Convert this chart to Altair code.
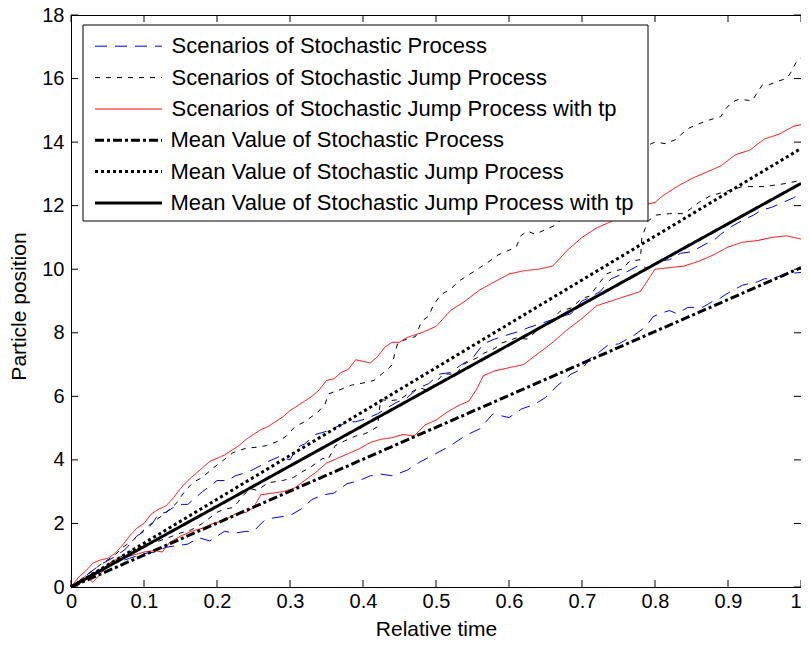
import altair as alt
import pandas as pd

SCEN_SERIES = [
    "Scenarios of Stochastic Process",
    "Scenarios of Stochastic Jump Process",
    "Scenarios of Stochastic Jump Process with tp",
]
MEAN_SERIES = [
    "Mean Value of Stochastic Process",
    "Mean Value of Stochastic Jump Process",
    "Mean Value of Stochastic Jump Process with tp",
]
SCEN_COLORS = ["#0000FF", "#000000", "#FF0000"]
MEAN_COLORS = ["#000000", "#000000", "#000000"]
SCEN_DASHES = [[12, 8], [5, 6], [1, 0]]
MEAN_DASHES = [[9, 3, 3, 3], [3, 3], [1, 0]]

X_TICKS = [0, 0.1, 0.2, 0.3, 0.4, 0.5, 0.6, 0.7, 0.8, 0.9, 1]
Y_TICKS = [0, 2, 4, 6, 8, 10, 12, 14, 16, 18]

blue_upper = [(0, 0), (0.02, 0.35), (0.04, 0.7), (0.06, 0.95), (0.075, 1.2), (0.09, 1.6), (0.1, 1.75),
              (0.11, 1.95), (0.12, 2.3), (0.13, 2.35), (0.14, 2.5), (0.15, 2.6), (0.16, 2.6), (0.17, 2.8),
              (0.18, 3.0), (0.195, 3.25), (0.2, 3.35), (0.215, 3.35), (0.225, 3.5), (0.24, 3.6), (0.25, 3.7),
              (0.27, 3.95), (0.285, 4.1), (0.3, 4.0), (0.31, 4.4), (0.32, 4.5), (0.335, 4.8), (0.35, 4.9),
              (0.37, 5.1), (0.38, 5.2), (0.39, 5.2), (0.405, 5.3), (0.42, 5.45), (0.445, 5.8), (0.46, 5.95),
              (0.475, 6.25), (0.49, 6.4), (0.505, 6.7), (0.52, 6.75), (0.535, 7.0), (0.55, 7.2), (0.565, 7.65),
              (0.58, 7.8), (0.6, 7.95), (0.615, 8.05), (0.625, 8.15), (0.645, 8.3), (0.67, 8.5), (0.685, 8.6),
              (0.7, 9.0), (0.71, 9.1), (0.725, 9.3), (0.74, 9.7), (0.76, 9.9), (0.78, 10.15), (0.79, 10.0),
              (0.8, 10.25), (0.82, 10.3), (0.835, 10.5), (0.85, 10.55), (0.87, 10.8), (0.88, 10.9), (0.89, 11.1),
              (0.905, 11.35), (0.925, 11.6), (0.935, 11.7), (0.945, 11.85), (0.96, 11.95), (0.975, 12.1),
              (0.99, 12.25), (1.0, 12.4)]

blue_lower = [(0, 0), (0.02, 0.3), (0.04, 0.55), (0.06, 0.75), (0.08, 0.9), (0.1, 1.05), (0.115, 1.1),
              (0.13, 1.25), (0.145, 1.3), (0.16, 1.35), (0.175, 1.55), (0.19, 1.45), (0.2, 1.6), (0.21, 1.75),
              (0.225, 1.7), (0.24, 1.75), (0.25, 1.75), (0.265, 2.1), (0.272, 2.15), (0.285, 2.2), (0.3, 2.25),
              (0.315, 2.45), (0.33, 2.75), (0.345, 2.9), (0.36, 2.95), (0.378, 3.25), (0.395, 3.35), (0.41, 3.5),
              (0.425, 3.55), (0.44, 3.5), (0.46, 3.67), (0.477, 3.92), (0.5, 4.2), (0.52, 4.45), (0.54, 4.76),
              (0.56, 4.98), (0.578, 5.45), (0.6, 5.33), (0.617, 5.6), (0.635, 5.75), (0.65, 5.96), (0.666, 6.33),
              (0.685, 6.7), (0.7, 6.86), (0.714, 7.27), (0.72, 7.33), (0.735, 7.6), (0.75, 7.65), (0.77, 7.9),
              (0.788, 8.2), (0.797, 8.5), (0.806, 8.6), (0.82, 8.7), (0.83, 8.6), (0.845, 8.8), (0.865, 8.8),
              (0.88, 9.0), (0.89, 9.1), (0.9, 9.25), (0.92, 9.5), (0.94, 9.6), (0.95, 9.7), (0.96, 9.7),
              (0.98, 9.85), (1.0, 9.9)]

black_upper = [(0, 0), (0.02, 0.35), (0.04, 0.7), (0.06, 1.0), (0.071, 1.25), (0.085, 1.47), (0.1, 1.8),
               (0.11, 2.0), (0.128, 2.3), (0.145, 2.65), (0.157, 3.05), (0.168, 3.3), (0.18, 3.45), (0.195, 3.75),
               (0.205, 3.92), (0.222, 4.23), (0.24, 4.37), (0.255, 4.4), (0.268, 4.45), (0.285, 4.6), (0.295, 4.75),
               (0.307, 5.05), (0.32, 5.2), (0.338, 5.5), (0.348, 5.75), (0.353, 6.08), (0.37, 6.22), (0.384, 6.35),
               (0.4, 6.42), (0.415, 6.5), (0.436, 6.9), (0.44, 7.0), (0.444, 7.4), (0.448, 7.7), (0.46, 7.8),
               (0.472, 7.88), (0.48, 8.35), (0.49, 8.53), (0.497, 8.9), (0.507, 9.2), (0.52, 9.38), (0.533, 9.65),
               (0.548, 9.87), (0.56, 10.05), (0.57, 10.2), (0.585, 10.45), (0.6, 10.6), (0.61, 10.7), (0.616, 11.05),
               (0.625, 11.2), (0.636, 11.1), (0.65, 11.25), (0.665, 11.4), (0.68, 11.8), (0.7, 12.1), (0.72, 12.6),
               (0.74, 13.0), (0.76, 13.4), (0.78, 13.8), (0.8, 14.0), (0.815, 13.95), (0.83, 14.1), (0.843, 14.4),
               (0.857, 14.55), (0.875, 14.7), (0.89, 14.8), (0.897, 15.05), (0.905, 15.25), (0.915, 15.35),
               (0.933, 15.3), (0.947, 15.8), (0.956, 15.8), (0.966, 15.9), (0.98, 16.0), (0.985, 16.15),
               (0.993, 16.5), (1.0, 16.65)]

black_lower = [(0, 0), (0.02, 0.3), (0.04, 0.55), (0.06, 0.85), (0.085, 1.16), (0.1, 1.3), (0.115, 1.4),
               (0.133, 1.55), (0.15, 1.7), (0.165, 1.8), (0.18, 2.0), (0.2, 2.35), (0.21, 2.45), (0.222, 2.5),
               (0.228, 2.65), (0.236, 2.88), (0.245, 3.1), (0.255, 3.04), (0.27, 3.28), (0.29, 3.35), (0.305, 3.45),
               (0.315, 3.6), (0.33, 3.8), (0.345, 4.05), (0.352, 4.0), (0.362, 4.45), (0.375, 4.6), (0.39, 4.75),
               (0.4, 4.8), (0.41, 4.9), (0.42, 5.05), (0.424, 5.9), (0.436, 5.86), (0.45, 5.9), (0.46, 6.05),
               (0.477, 6.27), (0.49, 6.18), (0.5, 6.45), (0.51, 6.7), (0.528, 6.7), (0.537, 7.0), (0.555, 7.2),
               (0.565, 7.35), (0.58, 7.5), (0.59, 7.68), (0.6, 7.75), (0.61, 7.84), (0.625, 7.8), (0.645, 8.2),
               (0.655, 8.3), (0.67, 8.68), (0.685, 8.78), (0.7, 9.08), (0.71, 9.15), (0.725, 9.6), (0.733, 9.85),
               (0.745, 9.95), (0.755, 10.0), (0.765, 10.25), (0.78, 10.3), (0.782, 11.0), (0.79, 11.5), (0.8, 11.7),
               (0.82, 11.75), (0.84, 11.75), (0.86, 12.1), (0.875, 12.3), (0.89, 12.4), (0.905, 12.5), (0.92, 12.6),
               (0.935, 12.6), (0.95, 12.6), (0.965, 12.65), (0.98, 12.7), (1.0, 12.8)]

red_upper = [(0, 0), (0.01, 0.3), (0.02, 0.5), (0.03, 0.75), (0.04, 0.85), (0.05, 0.9), (0.06, 1.05), (0.07, 1.3),
             (0.08, 1.6), (0.09, 1.85), (0.10, 2.0), (0.11, 2.3), (0.12, 2.45), (0.13, 2.55), (0.14, 2.8),
             (0.15, 3.1), (0.16, 3.35), (0.17, 3.55), (0.18, 3.75), (0.19, 3.95), (0.20, 4.05), (0.21, 4.15),
             (0.22, 4.3), (0.23, 4.45), (0.24, 4.65), (0.25, 4.8), (0.26, 4.95), (0.27, 5.05), (0.28, 5.2),
             (0.29, 5.35), (0.30, 5.55), (0.31, 5.7), (0.32, 5.85), (0.33, 6.0), (0.34, 6.2), (0.35, 6.5),
             (0.36, 6.55), (0.37, 6.75), (0.38, 6.85), (0.39, 7.15), (0.40, 7.1), (0.41, 7.05), (0.42, 7.25),
             (0.43, 7.55), (0.44, 7.7), (0.45, 7.7), (0.46, 7.85), (0.48, 8.0), (0.50, 8.2), (0.52, 8.7),
             (0.54, 9.0), (0.56, 9.35), (0.58, 9.6), (0.60, 9.85), (0.62, 9.95), (0.64, 10.0), (0.66, 10.1),
             (0.68, 10.6), (0.70, 11.0), (0.72, 11.3), (0.74, 11.5), (0.76, 11.75), (0.78, 12.0), (0.80, 12.1),
             (0.81, 12.3), (0.83, 12.6), (0.85, 12.85), (0.87, 13.05), (0.89, 13.25), (0.91, 13.6), (0.93, 13.75),
             (0.95, 14.1), (0.97, 14.25), (0.99, 14.5), (1.0, 14.55)]

red_lower = [(0, 0), (0.01, 0.15), (0.02, 0.35), (0.03, 0.15), (0.04, 0.4), (0.05, 0.7), (0.06, 0.85),
             (0.07, 0.9), (0.085, 1.0), (0.1, 1.1), (0.115, 1.15), (0.125, 1.1), (0.135, 1.4), (0.15, 1.6),
             (0.165, 1.75), (0.18, 1.85), (0.195, 2.0), (0.21, 2.1), (0.225, 2.3), (0.24, 2.35), (0.25, 2.5),
             (0.26, 2.9), (0.275, 2.95), (0.29, 3.0), (0.305, 3.1), (0.32, 3.35), (0.335, 3.6), (0.35, 3.9),
             (0.365, 4.05), (0.38, 4.2), (0.395, 4.35), (0.41, 4.55), (0.425, 4.65), (0.44, 4.7), (0.455, 4.8),
             (0.47, 4.75), (0.485, 5.1), (0.5, 5.25), (0.515, 5.5), (0.53, 5.7), (0.545, 5.85), (0.555, 6.2),
             (0.565, 6.65), (0.58, 6.8), (0.6, 6.9), (0.62, 7.0), (0.64, 7.35), (0.66, 7.7), (0.68, 8.1),
             (0.70, 8.45), (0.72, 8.85), (0.74, 9.0), (0.76, 9.15), (0.78, 9.3), (0.80, 10.0), (0.82, 10.05),
             (0.84, 10.1), (0.86, 10.25), (0.88, 10.45), (0.90, 10.7), (0.92, 10.85), (0.94, 10.9), (0.96, 11.0),
             (0.98, 11.05), (1.0, 10.95)]

mean_stochastic = [(0, 0), (1, 10.05)]
mean_jump = [(0, 0), (1, 13.8)]
mean_jump_tp = [(0, 0), (1, 12.7)]

W, H = 730, 572
FONT = "Liberation Sans"


def to_rows(points, series, path):
    return [{"x": x, "y": y, "series": series, "path": path, "i": i} for i, (x, y) in enumerate(points)]


scen_rows = (to_rows(blue_upper, SCEN_SERIES[0], "b1") + to_rows(blue_lower, SCEN_SERIES[0], "b2")
             + to_rows(black_upper, SCEN_SERIES[1], "k1") + to_rows(black_lower, SCEN_SERIES[1], "k2")
             + to_rows(red_upper, SCEN_SERIES[2], "r1") + to_rows(red_lower, SCEN_SERIES[2], "r2"))
mean_rows = (to_rows(mean_stochastic, MEAN_SERIES[0], "m1") + to_rows(mean_jump, MEAN_SERIES[1], "m2")
             + to_rows(mean_jump_tp, MEAN_SERIES[2], "m3"))
scen_df = pd.DataFrame(scen_rows)
mean_df = pd.DataFrame(mean_rows)

x_scale = alt.Scale(domain=[0, 1], nice=False, zero=False)
y_scale = alt.Scale(domain=[0, 18], nice=False, zero=False)

x_axis = alt.Axis(values=X_TICKS, format="~g", title="Relative time", grid=False, domain=False,
                  ticks=False, tickSize=0, labelFontSize=20, labelPadding=20, labelBaseline="alphabetic",
                  labelAlign={"condition": {"test": "datum.value == 1", "value": "right"}, "value": "center"},
                  labelOverlap=False, labelFlush=False, titleFontSize=21, titleFontWeight="normal",
                  titleY=48, titleBaseline="alphabetic")
y_axis = alt.Axis(values=Y_TICKS, title="Particle position", grid=False, domain=False, ticks=False,
                  tickSize=0, labelFontSize=20, labelPadding=7, labelOverlap=False, labelFlush=False,
                  titleFontSize=21, titleFontWeight="normal", titleX=-46, titleY=291, titleAngle=270,
                  titleAlign="center", titleBaseline="alphabetic")

X = alt.X("x:Q", scale=x_scale, axis=x_axis)
Y = alt.Y("y:Q", scale=y_scale, axis=y_axis)

legend_common = dict(title=None, orient="none", padding=0, symbolType="stroke", symbolSize=4489,
                     clipHeight=21.4, rowPadding=8.4, labelFontSize=22, labelFont=FONT,
                     labelColor="black", labelLimit=700)
scen_legend = alt.Legend(legendX=22, legendY=20.5, symbolStrokeWidth=1, symbolOffset=1.5,
                         labelOffset=9, **legend_common)
mean_legend = alt.Legend(legendX=22, legendY=114.5, symbolStrokeWidth=3, symbolOffset=0.5,
                         labelOffset=7, **legend_common)

scen = alt.Chart(scen_df).mark_line(strokeWidth=1, strokeCap="butt", strokeJoin="miter").encode(
    x=X, y=Y,
    color=alt.Color("series:N", scale=alt.Scale(domain=SCEN_SERIES, range=SCEN_COLORS), legend=scen_legend),
    strokeDash=alt.StrokeDash("series:N", scale=alt.Scale(domain=SCEN_SERIES, range=SCEN_DASHES),
                              legend=scen_legend),
    detail="path:N", order="i:Q")
means = alt.Chart(mean_df).mark_line(strokeWidth=3, strokeCap="butt").encode(
    x=X, y=Y,
    color=alt.Color("series:N", scale=alt.Scale(domain=MEAN_SERIES, range=MEAN_COLORS), legend=mean_legend),
    strokeDash=alt.StrokeDash("series:N", scale=alt.Scale(domain=MEAN_SERIES, range=MEAN_DASHES),
                              legend=mean_legend),
    detail="path:N", order="i:Q")

# legend frame (white box that hides the lines under the legend)
frame = alt.Chart(pd.DataFrame({"k": [0]})).mark_rect(fill="white", stroke="black", strokeWidth=1).encode(
    x=alt.value(12), x2=alt.value(577), y=alt.value(10), y2=alt.value(206))

xt = pd.DataFrame({"x": X_TICKS})
yt = pd.DataFrame({"y": Y_TICKS})
tick_bottom = alt.Chart(xt).mark_rule(color="black", strokeWidth=1).encode(
    x=X, y=alt.value(H), y2=alt.value(H - 7))
tick_top = alt.Chart(xt).mark_rule(color="black", strokeWidth=1).encode(
    x=X, y=alt.value(0), y2=alt.value(7))
tick_left = alt.Chart(yt).mark_rule(color="black", strokeWidth=1).encode(
    y=Y, x=alt.value(0), x2=alt.value(7))
tick_right = alt.Chart(yt).mark_rule(color="black", strokeWidth=1).encode(
    y=Y, x=alt.value(W), x2=alt.value(W - 7))

chart = alt.layer(scen, means, frame, tick_bottom, tick_top, tick_left, tick_right).resolve_scale(
    color="independent", strokeDash="independent"
).properties(
    width=W, height=H,
    padding={"left": 63, "top": 7, "right": 0, "bottom": 51},
    autosize=alt.AutoSizeParams(type="none"),
    background="white",
).configure_view(stroke="black", strokeWidth=1).configure_axis(
    labelFont=FONT, titleFont=FONT, labelColor="black", titleColor="black"
)

chart.save("out.html", embed_options={"renderer": "svg", "actions": False})
